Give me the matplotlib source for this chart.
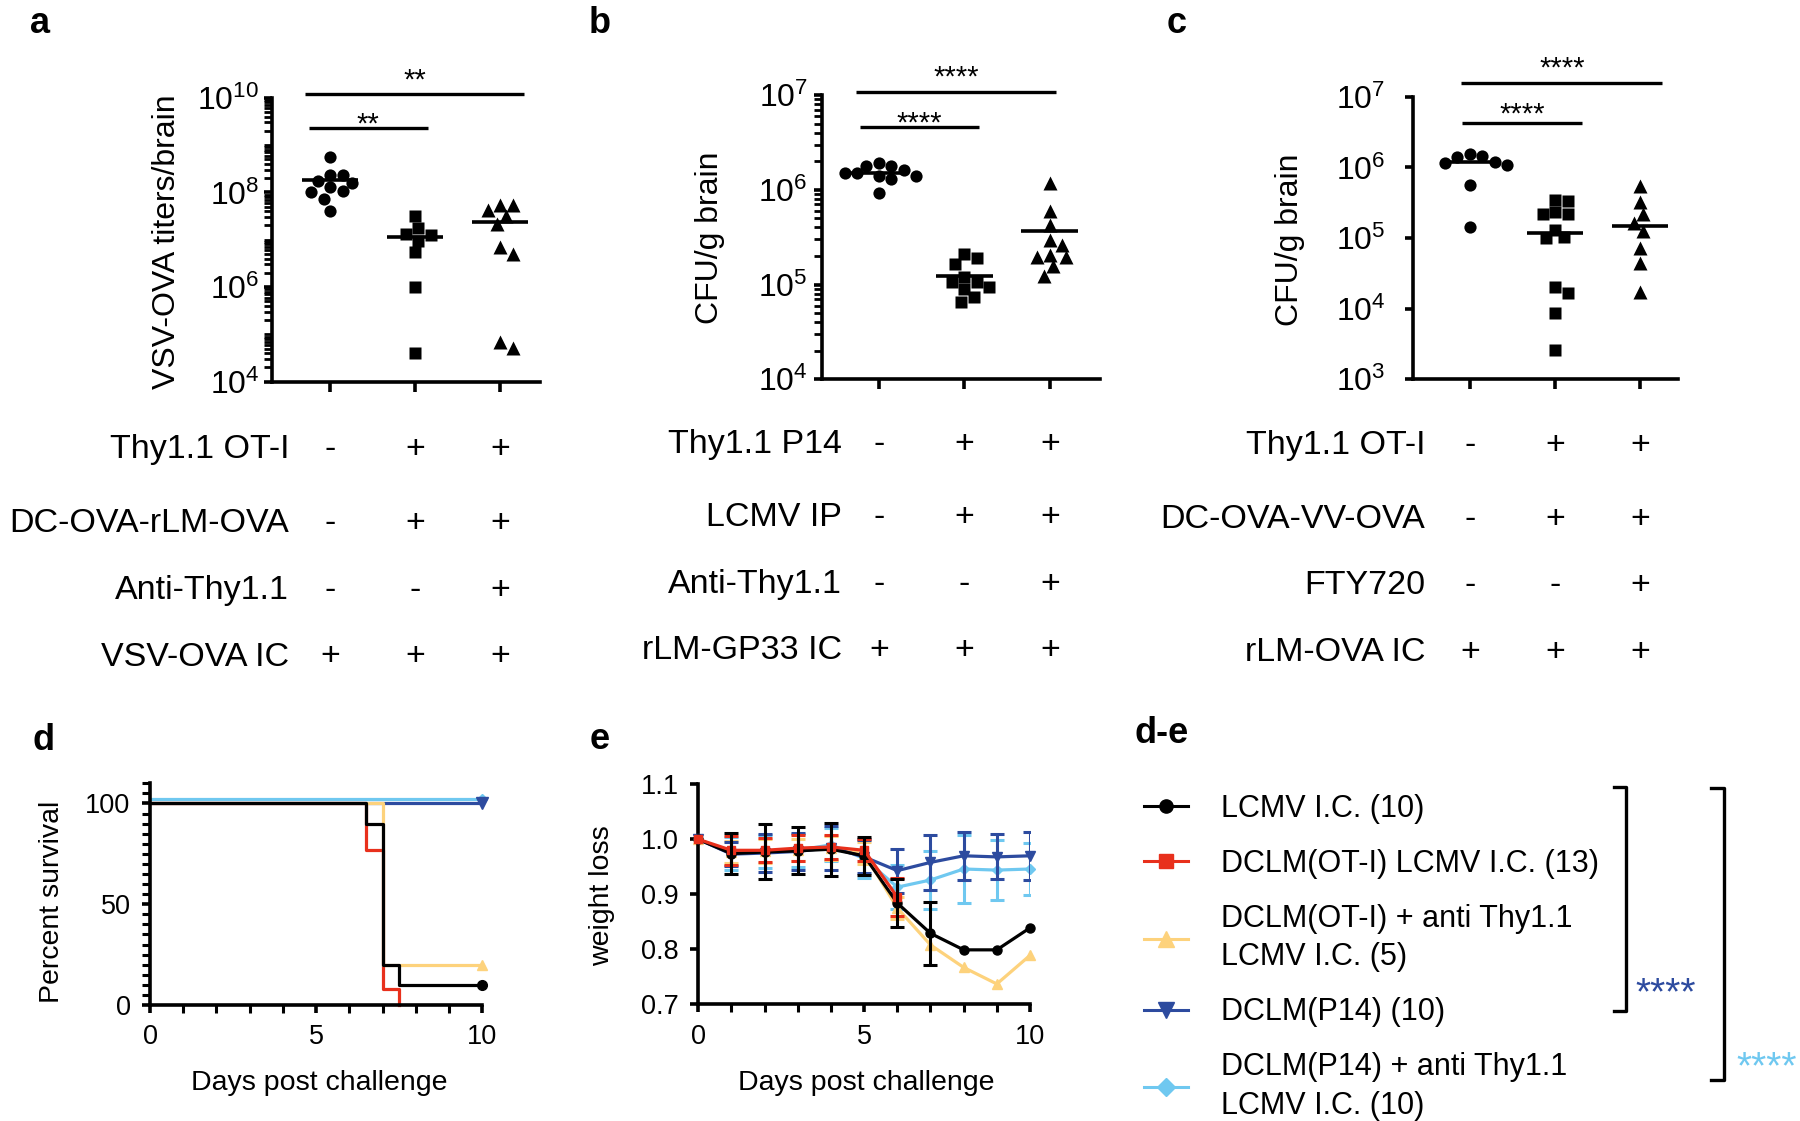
import numpy as np
import matplotlib
matplotlib.use('Agg')
import matplotlib.pyplot as plt
import matplotlib.transforms as mtransforms
from matplotlib.lines import Line2D
from matplotlib.ticker import (FixedLocator, MultipleLocator,
                               FuncFormatter, NullFormatter, NullLocator)

plt.rcParams['font.family'] = ['Liberation Sans', 'DejaVu Sans']
plt.rcParams['mathtext.fontset'] = 'custom'
plt.rcParams['mathtext.rm'] = 'Liberation Sans'
plt.rcParams['mathtext.it'] = 'Liberation Sans:italic'
plt.rcParams['mathtext.bf'] = 'Liberation Sans:bold'

W, H = 1800, 1121

# ---------------- data ----------------
# a: VSV-OVA titers / brain
a_none = [5.5e8, 2.3e8, 2.3e8, 1.7e8, 1.6e8, 1.28e8, 1.05e8, 1.02e8, 7.4e7, 4.1e7]
a_otI = [3.1e7, 1.74e7, 1.35e7, 1.26e7, 9.5e6, 5.4e6, 9.8e5, 4.1e4]
a_otI_anti = [5.4e7, 5.4e7, 4.3e7, 3.1e7, 2.1e7, 7.1e6, 5.1e6, 6.8e4, 5.2e4]
a_rows = ['Thy1.1 OT-I', 'DC-OVA-rLM-OVA', 'Anti-Thy1.1', 'VSV-OVA IC']
a_signs = [['-', '+', '+'], ['-', '+', '+'], ['-', '-', '+'], ['+', '+', '+']]
a_stars = ['**', '**']

# b: CFU/g brain (rLM-GP33)
b_none = [1.9e6, 1.8e6, 1.8e6, 1.6e6, 1.5e6, 1.5e6, 1.4e6, 1.4e6, 1.3e6, 9.3e5]
b_p14 = [2.1e5, 1.9e5, 1.66e5, 1.2e5, 1.07e5, 1.07e5, 9.5e4, 8.9e4, 7.4e4, 6.6e4]
b_p14_anti = [1.19e6, 6.0e5, 4.2e5, 2.95e5, 2.6e5, 2.05e5, 1.95e5, 1.95e5, 1.55e5, 1.23e5]
b_rows = ['Thy1.1 P14', 'LCMV IP', 'Anti-Thy1.1', 'rLM-GP33 IC']
b_signs = [['-', '+', '+'], ['-', '+', '+'], ['-', '-', '+'], ['+', '+', '+']]
b_stars = ['****', '****']

# c: CFU/g brain (rLM-OVA)
c_none = [1.55e6, 1.46e6, 1.41e6, 1.2e6, 1.17e6, 1.07e6, 5.6e5, 1.45e5]
c_otI = [3.5e5, 3.35e5, 2.3e5, 2.2e5, 2.2e5, 1.3e5, 1.02e5, 1.0e5, 2.0e4, 1.66e4, 8.7e3, 2.6e3]
c_fty = [5.4e5, 3.2e5, 2.2e5, 1.65e5, 1.26e5, 7.2e4, 4.4e4, 1.74e4]
c_rows = ['Thy1.1 OT-I', 'DC-OVA-VV-OVA', 'FTY720', 'rLM-OVA IC']
c_signs = [['-', '+', '+'], ['-', '+', '+'], ['-', '-', '+'], ['+', '+', '+']]
c_stars = ['****', '****']

# d: survival (Kaplan-Meier steps)
d_lcmv_t, d_lcmv_s = [0, 6.5, 7, 7.5, 10], [100, 90, 20, 10, 10]
d_ot_t, d_ot_s = [0, 6.5, 7, 7.5], [100, 76.9, 7.7, 0]
d_otanti_t, d_otanti_s = [0, 7, 10], [100, 20, 20]
d_p14_t, d_p14_s = [0, 10], [100, 100]
d_p14anti_t, d_p14anti_s = [0, 10], [100, 100]

# e: weight loss
e_days = list(range(11))
e_lcmv = [1.0, 0.974, 0.977, 0.979, 0.982, 0.970, 0.884, 0.829, 0.799, 0.799, 0.839]
e_lcmv_err = [0, 0.038, 0.05, 0.043, 0.048, 0.035, 0.043, 0.057, 0, 0, 0]
e_ot = [1.0, 0.980, 0.980, 0.984, 0.986, 0.980, 0.895]
e_ot_err = [0, 0.026, 0.022, 0.024, 0.022, 0.02, 0.034]
e_otanti = [1.0, 0.976, 0.978, 0.981, 0.984, 0.975, 0.875, 0.808, 0.767, 0.737, 0.789]
e_otanti_err = [0, 0.02, 0.022, 0.02, 0.022, 0.02, 0.02, 0, 0, 0, 0]
e_p14 = [1.0, 0.973, 0.975, 0.978, 0.985, 0.968, 0.943, 0.958, 0.970, 0.968, 0.970]
e_p14_err = [0, 0.022, 0.035, 0.033, 0.04, 0.03, 0.04, 0.05, 0.044, 0.041, 0.044]
e_p14anti = [1.0, 0.975, 0.978, 0.980, 0.990, 0.965, 0.913, 0.926, 0.946, 0.944, 0.946]
e_p14anti_err = [0, 0.03, 0.03, 0.03, 0.03, 0.035, 0.04, 0.052, 0.062, 0.054, 0.048]

leg_labels = ['LCMV I.C. (10)', 'DCLM(OT-I) LCMV I.C. (13)',
              'DCLM(OT-I) + anti Thy1.1\nLCMV I.C. (5)', 'DCLM(P14) (10)',
              'DCLM(P14) + anti Thy1.1\nLCMV I.C. (10)']

BLACK, RED, YELLOW, BLUE, LBLUE = '#000000', '#e8301c', '#fdd27c', '#2d4b9f', '#6fc8f0'

# ---------------- figure ----------------
fig = plt.figure(figsize=(W / 100, H / 100), dpi=100)
ov = fig.add_axes([0, 0, 1, 1], zorder=-5)
ov.set_xlim(0, W)
ov.set_ylim(H, 0)
ov.axis('off')


def px_axes(l, t, r, b):
    return fig.add_axes([l / W, 1 - b / H, (r - l) / W, (b - t) / H])


def swarm(ax, vals, xc, d, ppu):
    y = ax.transData.transform(np.column_stack([np.full(len(vals), xc), vals]))[:, 1]
    order = np.argsort(y)[::-1]
    steps = [0]
    for k in range(1, 14):
        steps += [k * 0.25, -k * 0.25]
    placed, dx = [], np.zeros(len(vals))
    for i in order:
        for s in steps:
            cand = s * d
            if all((cand - px) ** 2 + (y[i] - py) ** 2 >= (0.95 * d) ** 2 for px, py in placed):
                break
        placed.append((cand, y[i]))
        dx[i] = cand
    return xc + dx / ppu


def log_panel(box, groups, ylim, labeled, minor, center, xlim, pad):
    l, t, r, b = box
    ax = px_axes(l, t, r, b)
    ax.set_yscale('log')
    ax.set_ylim(*ylim)
    ax.set_xlim(*xlim)
    for s in ('top', 'right'):
        ax.spines[s].set_visible(False)
    for s in ('left', 'bottom'):
        ax.spines[s].set_linewidth(2.6)
    ax.yaxis.set_major_locator(FixedLocator(labeled))
    ax.yaxis.set_major_formatter(FuncFormatter(
        lambda v, p: r'$\mathregular{10^{%d}}$' % round(np.log10(v))))
    e0, e1 = int(round(np.log10(ylim[0]))), int(round(np.log10(ylim[1])))
    if minor:
        mt = [k * 10.0 ** e for e in range(e0, e1) for k in range(1, 10)]
        ax.yaxis.set_minor_locator(FixedLocator([m for m in mt if m not in labeled]))
    else:
        ax.yaxis.set_minor_locator(NullLocator())
    ax.yaxis.set_minor_formatter(NullFormatter())
    ax.tick_params(axis='y', which='major', length=6, width=2.6, labelsize=23, pad=pad)
    ax.tick_params(axis='y', which='minor', length=5.5, width=2.0)
    ax.set_xticks(range(len(groups)))
    ax.set_xticklabels([])
    ax.tick_params(axis='x', length=7.5, width=2.6)
    ppu = (r - l) / (xlim[1] - xlim[0])
    for i, (vals, m, ms) in enumerate(zip(groups, ['o', 's', '^'], [8.8, 8.2, 10.0])):
        xs = swarm(ax, vals, i, 12.5, ppu)
        ax.plot(xs, vals, linestyle='none', marker=m, ms=ms, color='black',
                mec='none', clip_on=False, zorder=3)
        mv = center(vals)
        ax.plot([i - 1 / 3, i + 1 / 3], [mv, mv], color='black', lw=2.6,
                solid_capstyle='butt', zorder=4)
    return ax


def sig_bars(ax, box, bars, stars):
    l, t, r, b = box
    tr = mtransforms.blended_transform_factory(ax.transData, ax.transAxes)
    for (x0, x1, yb, ys), s in zip(bars, stars):
        fb = (b - yb) / (b - t)
        fs = (b - ys - 16.8) / (b - t)
        ax.plot([x0, x1], [fb, fb], color='black', lw=2.4, transform=tr,
                clip_on=False, solid_capstyle='butt')
        ax.text((x0 + x1) / 2, fs, s, transform=tr, ha='center', va='baseline',
                fontsize=21)


def table(ax, rows, signs, label_right, row_y):
    # condition rows under the x axis: signs sit under each group's tick
    tr = mtransforms.blended_transform_factory(ax.transData, ov.transData)
    for name, sg, y in zip(rows, signs, row_y):
        ov.text(label_right, y + 12.2, name, ha='right', va='baseline', fontsize=24.5)
        for i, s in enumerate(sg):
            ax.text(i, y + 12.2, s, transform=tr, ha='center', va='baseline',
                    fontsize=24.5, clip_on=False)


# panel a
box_a = (271.7, 97.7, 540, 381.7)
ax_a = log_panel(box_a, [a_none, a_otI, a_otI_anti], (1e4, 1e10),
                 [1e4, 1e6, 1e8, 1e10], True, np.mean, (-0.686, 2.47), 3)
sig_bars(ax_a, box_a, [(-0.29, 2.28, 94, 71.7), (-0.25, 1.15, 128, 115.7)], a_stars)
table(ax_a, a_rows, a_signs, 289.3, [445.8, 520, 586.7, 653.3])
ov.text(167, 242, 'VSV-OVA titers/brain', rotation=90, ha='center', va='center', fontsize=23)

# panel b
box_b = (821.7, 95, 1100, 379.3)
ax_b = log_panel(box_b, [b_none, b_p14, b_p14_anti], (1e4, 1e7),
                 [1e4, 1e5, 1e6, 1e7], True, np.mean, (-0.67, 2.585), 4)
sig_bars(ax_b, box_b, [(-0.27, 2.07, 92.3, 68.3), (-0.22, 1.17, 127, 115)], b_stars)
table(ax_b, b_rows, b_signs, 842, [440.8, 513.8, 580.5, 647])
ov.text(710, 238, 'CFU/g brain', rotation=90, ha='center', va='center', fontsize=23)

# panel c
box_c = (1413.3, 96.7, 1678, 379.3)
ax_c = log_panel(box_c, [c_none, c_otI, c_fty], (1e3, 1e7),
                 [1e3, 1e4, 1e5, 1e6, 1e7], False, np.median, (-0.667, 2.447), 14)
sig_bars(ax_c, box_c, [(-0.10, 2.26, 83.3, 60), (-0.09, 1.32, 123.3, 106)], c_stars)
table(ax_c, c_rows, c_signs, 1425.4, [441.7, 515.5, 582, 648.7])
ov.text(1290, 240, 'CFU/g brain', rotation=90, ha='center', va='center', fontsize=23)


def lin_axes(ax):
    for s in ('top', 'right'):
        ax.spines[s].set_visible(False)
    for s in ('left', 'bottom'):
        ax.spines[s].set_linewidth(2.6)
    ax.xaxis.set_major_locator(MultipleLocator(5))
    ax.xaxis.set_minor_locator(MultipleLocator(1))
    ax.tick_params(which='major', length=6, width=2.6, labelsize=19.5, pad=8)
    ax.tick_params(which='minor', length=5.5, width=2.2)


# panel d
ax_d = px_axes(150, 783.3, 482.3, 1005)
ax_d.set_xlim(0, 10)
ax_d.set_ylim(0, 110)
lin_axes(ax_d)
ax_d.yaxis.set_major_locator(FixedLocator([0, 50, 100]))
ax_d.yaxis.set_minor_locator(MultipleLocator(5))
up = mtransforms.offset_copy(ax_d.transData, fig=fig, x=0, y=4, units='dots')
surv = [(d_p14_t, d_p14_s, BLUE, 'v', 8, ax_d.transData, 2),
        (d_p14anti_t, d_p14anti_s, LBLUE, 'D', 5, up, 2.2),
        (d_ot_t, d_ot_s, RED, None, 0, ax_d.transData, 2.4),
        (d_otanti_t, d_otanti_s, YELLOW, '^', 7, ax_d.transData, 2.5),
        (d_lcmv_t, d_lcmv_s, BLACK, 'o', 7, ax_d.transData, 3)]
for t, s, col, m, ms, tr, z in surv:
    ax_d.step(t, s, where='post', color=col, lw=2.3, transform=tr, zorder=z, clip_on=False)
    if m is not None:
        ax_d.plot(t[-1], s[-1], marker=m, ms=ms, color=col, transform=tr,
                  zorder=z + (2 if col == BLUE else 0), clip_on=False)
ov.text(52, 902, 'Percent survival', rotation=90, ha='center', va='center', fontsize=20.5)
ov.text(319, 1090, 'Days post challenge', ha='center', va='baseline', fontsize=20.5)

# panel e
ax_e = px_axes(698.3, 784.3, 1030, 1004.3)
ax_e.set_xlim(0, 10)
ax_e.set_ylim(0.7, 1.1)
lin_axes(ax_e)
ax_e.yaxis.set_major_locator(MultipleLocator(0.1))
ax_e.yaxis.set_major_formatter(FuncFormatter(lambda v, p: '%.1f' % v))
series = [(e_p14anti, e_p14anti_err, LBLUE, 'D', 5, 2.0),
          (e_otanti, e_otanti_err, YELLOW, '^', 6.5, 2.2),
          (e_p14, e_p14_err, BLUE, 'v', 6.5, 2.6),
          (e_lcmv, e_lcmv_err, BLACK, 'o', 6.5, 3.0),
          (e_ot, e_ot_err, RED, 's', 5.5, 3.2)]
for vals, err, col, m, ms, z in series:
    x = np.array(e_days[:len(vals)])
    v, er = np.array(vals), np.array(err)
    ax_e.plot(x, v, color=col, lw=2.3, marker=m, ms=ms, zorder=z, clip_on=False)
    k = er > 0
    ax_e.errorbar(x[k], v[k], yerr=er[k], fmt='none', ecolor=col, elinewidth=2.2,
                  capsize=4.8, capthick=2.2, zorder=z + (3 if col == BLACK else 0))
ov.text(602, 896, 'weight loss', rotation=90, ha='center', va='center', fontsize=20.5)
ov.text(866, 1090, 'Days post challenge', ha='center', va='baseline', fontsize=20.5)

# legend d-e
leg_size = 22
fs_px = leg_size * 100 / 72
handles = [Line2D([], [], color=BLACK, marker='o', lw=2.2, ms=9.5),
           Line2D([], [], color=RED, marker='s', lw=2.2, ms=9.5),
           Line2D([], [], color=YELLOW, marker='^', lw=2.2, ms=12),
           Line2D([], [], color=BLUE, marker='v', lw=2.2, ms=12),
           Line2D([], [], color=LBLUE, marker='D', lw=2.2, ms=9)]
leg = fig.legend(handles, leg_labels, loc='upper left', bbox_to_anchor=(1144 / W, 1 - 794 / H),
                 frameon=False, borderpad=0, borderaxespad=0, handlelength=43.6 / fs_px,
                 handletextpad=33.4 / fs_px, labelspacing=25 / fs_px,
                 prop={'family': 'Liberation Sans', 'size': leg_size})
for t in leg.get_texts():
    t.set_linespacing(1.36)

# significance brackets
ov.plot([1613.9, 1625.7, 1625.7, 1613.9], [787.3, 787.3, 1010.7, 1010.7], color='black', lw=2.4)
ov.plot([1710.7, 1723.7, 1723.7, 1710.7], [788.3, 788.3, 1080, 1080], color='black', lw=2.4)
ov.text(1666, 981.7 + 22.5, '****', color=BLUE, ha='center', va='baseline', fontsize=28)
ov.text(1767, 1056 + 22.5, '****', color=LBLUE, ha='center', va='baseline', fontsize=28)

# panel letters
for s, x, y in [('a', 30, 33), ('b', 589, 33), ('c', 1167, 33),
                ('d', 32, 750), ('e', 590, 749), ('d-e', 1135, 743)]:
    ov.text(x, y, s, fontsize=26, fontweight='bold', ha='left', va='baseline')

fig.savefig('out.png', dpi=100)
